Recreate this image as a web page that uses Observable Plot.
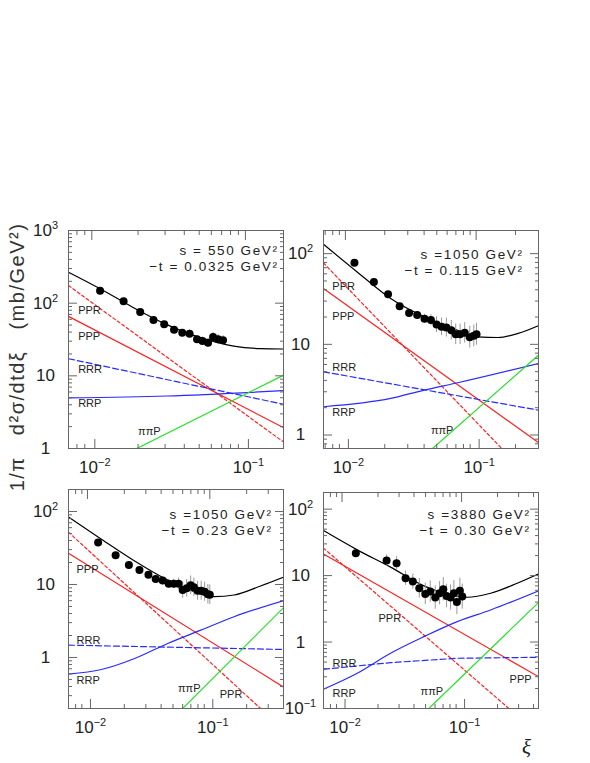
<!DOCTYPE html>
<html><head><meta charset="utf-8">
<script src="https://cdn.jsdelivr.net/npm/d3@7"></script>
<script src="https://cdn.jsdelivr.net/npm/@observablehq/plot@0.6"></script>
<style>
body{margin:0;background:#fff;}
#wrap{position:relative;width:590px;height:763px;overflow:hidden;font-family:"Liberation Sans",Arial,sans-serif;background:#fff;}
#wrap svg{position:absolute;}
#ytitle{position:absolute;left:17px;top:357px;transform:translate(-50%,-50%) rotate(-90deg);white-space:pre;font-size:20px;letter-spacing:1.5px;color:#333;}
#xtitle{position:absolute;left:522px;top:737px;font-family:"Liberation Serif",serif;font-style:italic;font-size:21px;line-height:21px;color:#222;}
</style></head>
<body><div id="wrap"><div id="ytitle">1/π   d²σ/dtdξ   (mb/GeV²)</div><div id="xtitle">ξ</div></div>
<script>
// ---------- tick values and labels ----------
const xMajorTicks = [0.01, 0.1];
const xMajorLabels = ["10^−2", "10^−1"];
const minorMult = [2, 3, 4, 5, 6, 7, 8, 9];

const p1YTicks = [1, 10, 100, 1000];
const p1YLabels = ["1", "10", "10^2", "10^3"];
const p2YTicks = [1, 10, 100];
const p2YLabels = ["1", "10", "10^2"];
const p3YTicks = [1, 10, 100];
const p3YLabels = ["1", "10", "10^2"];
const p4YTicks = [0.1, 1, 10, 100];
const p4YLabels = ["10^−1", "1", "10", "10^2"];

// ---------- panel texts ----------
const sLabels = ["s = 550 GeV²", "s =1050 GeV²", "s =1050 GeV²", "s =3880 GeV²"];
const tLabels = ["−t = 0.0325 GeV²", "−t = 0.115 GeV²", "−t = 0.23 GeV²", "−t = 0.30 GeV²"];

// ---------- panel 1 : s = 550, -t = 0.0325 ----------
const p1Points = [[0.01132,148,0.04],[0.0161,106,0.05],[0.02065,75.5,0.06],[0.0252,58.6,0.07],[0.0296,51.1,0.08],[0.0343,43.1,0.1],[0.0388,39.2,0.11],[0.0433,38.0,0.12],[0.0484,31.8,0.13],[0.0525,30.1,0.14],[0.0571,28.6,0.15],[0.0616,34.2,0.15],[0.0664,31.8,0.16],[0.0715,30.8,0.16]];
const p1Total = [[0.00705,267],[0.01133,158],[0.0187,86.5],[0.0308,50.6],[0.0509,33.5],[0.0839,25.7],[0.1253,23.7],[0.177,23.4]];
const p1PPR = [[0.00705,175],[0.177,1.23]];
const p1PPP = [[0.00705,65.8],[0.177,1.94]];
const p1RRR = [[0.00705,17.2],[0.177,4.06]];
const p1RRP = [[0.00705,4.97],[0.0308,5.28],[0.177,6.26]];
const p1PiPiP = [[0.0196,1.0],[0.177,10.2]];
const p1Labels = [["PPR",0.00815,79],["PPP",0.00815,34.8],["RRR",0.00815,12.2],["RRP",0.00815,4.16],["ππP",0.0200,1.71]];

// ---------- panel 2 : s = 1050, -t = 0.115 ----------
const p2Points = [[0.01173,79.6,0.03],[0.01652,48.8,0.04],[0.0212,35.6,0.05],[0.0260,26.3,0.06],[0.0307,22.2,0.08],[0.0354,21.0,0.1],[0.0403,19.1,0.12],[0.0451,18.5,0.15],[0.0498,16.5,0.22],[0.0544,15.6,0.25],[0.0592,15.3,0.27],[0.0646,14.3,0.28],[0.0698,12.9,0.3],[0.0754,12.9,0.3],[0.0818,13.4,0.3],[0.0894,12.0,0.32],[0.0960,12.4,0.32],[0.1007,12.9,0.32]];
const p2Total = [[0.0068,127],[0.0123,62.8],[0.0222,32.0],[0.0401,20.1],[0.0723,14.3],[0.1031,12.1],[0.147,11.9],[0.2094,13.2],[0.30,16.1]];
const p2PPR = [[0.0068,78.9],[0.157,0.71]];
const p2PPP = [[0.0068,41.2],[0.30,0.824]];
const p2RRR = [[0.0068,4.98],[0.30,1.88]];
const p2RRP = [[0.0068,2.05],[0.0222,2.53],[0.0401,3.13],[0.0723,3.77],[0.30,6.15]];
const p2PiPiP = [[0.0464,0.71],[0.30,7.6]];
const p2Labels = [["PPR",0.00794,43.3],["PPP",0.00794,20.4],["RRR",0.00794,5.6],["RRP",0.00794,1.79],["ππP",0.0451,1.13]];

// ---------- panel 3 : s = 1050, -t = 0.23 ----------
const p3Points = [[0.01222,37.5,0.05],[0.01699,25.2,0.06],[0.0218,18.5,0.08],[0.0266,15.8,0.1],[0.0315,13.6,0.1],[0.0361,11.9,0.12],[0.0412,11.3,0.14],[0.0461,10.2,0.15],[0.0507,10.2,0.16],[0.0556,10.2,0.2],[0.0600,8.40,0.3],[0.0647,8.87,0.32],[0.0697,9.75,0.34],[0.0741,9.16,0.34],[0.0795,8.22,0.35],[0.0850,8.22,0.35],[0.0906,7.96,0.35],[0.0964,7.33,0.36],[0.100,7.24,0.36]];
const p3Total = [[0.007,83.8],[0.0130,41.8],[0.0243,21.0],[0.0453,11.5],[0.0745,7.96],[0.1084,6.80],[0.158,7.17],[0.260,9.54],[0.40,12.6]];
const p3PPR = [[0.007,52.1],[0.260,0.2]];
const p3PPP = [[0.007,26.8],[0.40,0.394]];
const p3RRR = [[0.007,1.476],[0.40,1.288]];
const p3RRP = [[0.007,0.590],[0.0130,0.684],[0.0243,0.968],[0.0453,1.556],[0.0845,2.37],[0.158,3.62],[0.40,5.99]];
const p3PiPiP = [[0.060,0.2],[0.40,4.8]];
const p3Labels = [["PPP",0.00814,16.3],["RRR",0.00814,1.73],["RRP",0.00814,0.487],["ππP",0.0549,0.378],["PPR",0.1205,0.313]];

// ---------- panel 4 : s = 3880, -t = 0.30 ----------
const p4Points = [[0.01305,21.7,0.08],[0.0236,16.8,0.22],[0.0286,15.4,0.25],[0.0340,9.14,0.28],[0.0391,8.13,0.3],[0.0443,6.45,0.4],[0.0497,5.30,0.45],[0.0547,5.74,0.45],[0.0602,4.67,0.5],[0.0655,5.43,0.5],[0.0703,6.24,0.5],[0.0749,4.94,0.5],[0.0809,4.67,0.55],[0.0862,5.43,0.55],[0.0914,4.02,0.55],[0.0968,5.89,0.55],[0.1013,4.83,0.55]];
const p4Total = [[0.007,47.6],[0.0134,24.4],[0.02547,13.4],[0.0484,7.0],[0.0809,5.12],[0.1117,4.72],[0.175,5.43],[0.292,7.67],[0.44,10.6]];
const p4PPR = [[0.007,25.9],[0.249,0.1]];
const p4PPP = [[0.007,21.2],[0.44,0.301]];
const p4RRR = [[0.007,0.389],[0.02547,0.49],[0.092,0.570],[0.44,0.59]];
const p4RRP = [[0.007,0.195],[0.0134,0.339],[0.02547,0.678],[0.0484,1.205],[0.092,2.03],[0.175,3.04],[0.44,5.89]];
const p4PiPiP = [[0.0532,0.1],[0.44,3.93]];
const p4Labels = [["PPR",0.0202,2.25],["RRR",0.00833,0.473],["RRP",0.00833,0.167],["ππP",0.0454,0.179],["PPP",0.252,0.275]];

// ---------- drawing ----------
const wrap = document.getElementById("wrap");
const SVGNS = "http://www.w3.org/2000/svg";

function minorTicks([a, b]) {
  const out = [];
  for (let e = Math.floor(Math.log10(a)); e <= Math.ceil(Math.log10(b)); e++)
    for (const m of minorMult) { const v = m * Math.pow(10, e); if (v > a * 1.0001 && v < b * 0.9999) out.push(v); }
  return out;
}
function fmt(ticks, labels) {
  return d => { const i = ticks.findIndex(t => Math.abs(Math.log10(t) - Math.log10(d)) < 1e-6); return i < 0 ? "" : labels[i]; };
}

function drawPanel(p) {
  const tc = "#666";
  const pw = 215;
  const xMin = minorTicks(p.xDomain), yMin = minorTicks(p.yDomain);
  const L = {x: d => d[0], y: d => d[1], strokeWidth: 1.2, clip: true};
  const chart = Plot.plot({
    width: p.w, height: p.h,
    marginLeft: p.ml, marginTop: p.mt, marginRight: p.w - p.ml - pw, marginBottom: p.h - p.mt - p.ph,
    style: {background: "transparent", overflow: "visible", fontFamily: "'Liberation Sans', Arial, sans-serif", color: "#222"},
    x: {type: "log", domain: p.xDomain},
    y: {type: "log", domain: p.yDomain},
    marks: [
      Plot.line(p.ppr, {...L, stroke: "#ff2020", strokeDasharray: "3,2.5"}),
      Plot.line(p.ppp, {...L, stroke: "#ff2020"}),
      Plot.line(p.rrr, {...L, stroke: "#2a2aff", strokeDasharray: "6,3"}),
      Plot.line(p.rrp, {...L, stroke: "#2a2aff", curve: "monotone-x"}),
      Plot.line(p.pipip, {...L, stroke: "#22e022"}),
      Plot.line(p.total, {...L, stroke: "#000", curve: "monotone-x"}),
      Plot.ruleX(p.points, {x: d => d[0], y1: d => d[1] / (1 + d[2]), y2: d => d[1] * (1 + d[2]), stroke: "#999", strokeWidth: 1}),
      Plot.dot(p.points, {x: d => d[0], y: d => d[1], r: 4, fill: "#000"}),
      Plot.text(p.labels, {x: d => d[1], y: d => d[2], text: d => d[0], textAnchor: "start", fontSize: 11, fill: "#222"}),
      Plot.text([p.s], {text: d => d, frameAnchor: "top-right", dx: p.tdx, dy: p.tdy - 1, textAnchor: "end", fontSize: 13.5, fill: "#222"}),
      Plot.text([p.t], {text: d => d, frameAnchor: "top-right", dx: p.tdx, dy: p.tdy + 15, textAnchor: "end", fontSize: 13.5, fill: "#222"}),
      Plot.frame({stroke: tc}),
      Plot.axisX({ticks: xMin, anchor: "bottom", tickSize: -4, tickFormat: () => "", stroke: tc}),
      Plot.axisX({ticks: xMajorTicks, anchor: "bottom", tickSize: -9, tickPadding: 21, dx: 3, tickFormat: fmt(xMajorTicks, xMajorLabels), fontSize: 17, stroke: tc, fill: "#222"}),
      Plot.axisX({ticks: xMin, anchor: "top", tickSize: -4, tickFormat: () => "", stroke: tc}),
      Plot.axisX({ticks: xMajorTicks, anchor: "top", tickSize: -9, tickFormat: () => "", stroke: tc}),
      Plot.axisY({ticks: yMin, anchor: "left", tickSize: -4, tickFormat: () => "", stroke: tc}),
      Plot.axisY({ticks: p.yTicks, anchor: "left", tickSize: -9, tickPadding: 32, textAnchor: "middle", tickFormat: fmt(p.yTicks, p.yLabels), fontSize: 17, stroke: tc, fill: "#222"}),
      Plot.axisY({ticks: yMin, anchor: "right", tickSize: -4, tickFormat: () => "", stroke: tc}),
      Plot.axisY({ticks: p.yTicks, anchor: "right", tickSize: -9, tickFormat: () => "", stroke: tc})
    ]
  });
  chart.style.left = p.left + "px";
  chart.style.top = p.top + "px";
  d3.select(chart).selectAll("text").each(function () {
    const s = this.textContent;
    if (s === p.s || s === p.t) { this.style.letterSpacing = "1.6px"; return; }
    const m = /^10\^(.+)$/.exec(s);
    if (!m) return;
    this.textContent = "";
    const a = document.createElementNS(SVGNS, "tspan"); a.textContent = "10";
    const b = document.createElementNS(SVGNS, "tspan"); b.textContent = m[1];
    b.setAttribute("dy", "-7"); b.setAttribute("font-size", "11");
    this.appendChild(a); this.appendChild(b);
  });
  wrap.appendChild(chart);
}

drawPanel({left: 0, top: 200, w: 290, h: 290, ml: 68, mt: 30, ph: 218, xDomain: [0.00705, 0.177], yDomain: [1, 1000],
  yTicks: p1YTicks, yLabels: p1YLabels, points: p1Points, total: p1Total, ppr: p1PPR, ppp: p1PPP, rrr: p1RRR, rrp: p1RRP, pipip: p1PiPiP,
  labels: p1Labels, s: sLabels[0], t: tLabels[0], tdx: -5, tdy: 16});
drawPanel({left: 270, top: 200, w: 320, h: 290, ml: 53, mt: 30, ph: 218, xDomain: [0.0068, 0.30], yDomain: [0.71, 180],
  yTicks: p2YTicks, yLabels: p2YLabels, points: p2Points, total: p2Total, ppr: p2PPR, ppp: p2PPP, rrr: p2RRR, rrp: p2RRP, pipip: p2PiPiP,
  labels: p2Labels, s: sLabels[1], t: tLabels[1], tdx: -15, tdy: 20});
drawPanel({left: 0, top: 460, w: 290, h: 290, ml: 68, mt: 29, ph: 219, xDomain: [0.007, 0.40], yDomain: [0.2, 200],
  yTicks: p3YTicks, yLabels: p3YLabels, points: p3Points, total: p3Total, ppr: p3PPR, ppp: p3PPP, rrr: p3RRR, rrp: p3RRP, pipip: p3PiPiP,
  labels: p3Labels, s: sLabels[2], t: tLabels[2], tdx: -11, tdy: 21});
drawPanel({left: 270, top: 460, w: 320, h: 290, ml: 53, mt: 32, ph: 216, xDomain: [0.007, 0.44], yDomain: [0.1, 178],
  yTicks: p4YTicks, yLabels: p4YLabels, points: p4Points, total: p4Total, ppr: p4PPR, ppp: p4PPP, rrr: p4RRR, rrp: p4RRP, pipip: p4PiPiP,
  labels: p4Labels, s: sLabels[3], t: tLabels[3], tdx: -8, tdy: 18});
</script>
</body></html>
